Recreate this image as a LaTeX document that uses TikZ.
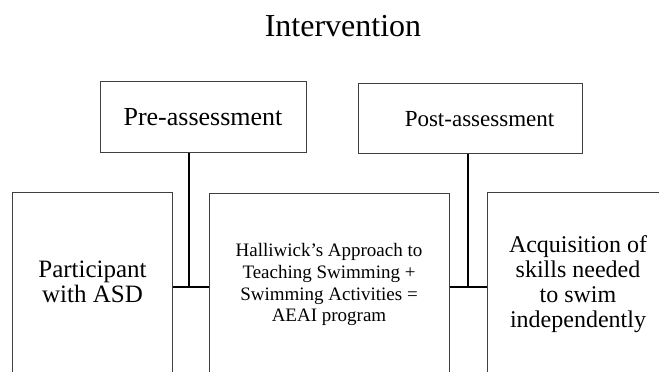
\documentclass[tikz,border=0pt]{standalone}
\usepackage{fontspec}
\setmainfont{Liberation Serif}
\begin{document}
\begin{tikzpicture}[x=1pt,y=-1pt,
  box/.style={draw=black!75,line width=1.3pt,inner sep=0pt,anchor=north west},
  conn/.style={draw=black,line width=2pt},
  txt/.style={inner sep=0pt,align=center,anchor=base}]
\useasboundingbox (0,0) rectangle (659,372);
\clip (0,0) rectangle (659,372);
% title
\node[txt,font=\fontsize{32}{36}\selectfont] (title) at (343,36) {Intervention};
% boxes
\node[box,minimum width=206,minimum height=71] (pre) at (100,81) {};
\node[box,minimum width=224,minimum height=70] (post) at (358,83) {};
\node[box,minimum width=160,minimum height=200] (leftbox) at (12,192) {};
\node[box,minimum width=240,minimum height=200] (midbox) at (209,193) {};
\node[box,minimum width=185,minimum height=200] (rightbox) at (487,192) {};
% texts (base anchor = baseline of the last line)
\node[txt,font=\fontsize{26}{28}\selectfont] (pretext) at (203,125) {Pre-assessment};
\node[txt,font=\fontsize{23}{26}\selectfont] (posttext) at (479.5,126.7) {Post-assessment};
\node[txt,font=\fontsize{25}{25}\selectfont] (lefttext) at (92.5,302.7) {Participant\\with ASD};
\node[txt,font=\fontsize{19}{21.8}\selectfont] (midtext) at (329,321.9) {Halliwick’s Approach to\\Teaching Swimming +\\Swimming Activities =\\AEAI program};
\node[txt,font=\fontsize{24}{24.8}\selectfont] (righttext) at (578,327.1) {Acquisition of\\skills needed\\to swim\\independently};
% connectors
\coordinate (j1) at (189.3,286.7);
\coordinate (j2) at (468,286.7);
\draw[conn] (pre.south -| j1) -- (j1);
\draw[conn] (leftbox.east |- j1) -- (midbox.west |- j1);
\draw[conn] (post.south -| j2) -- (j2);
\draw[conn] (midbox.east |- j2) -- (rightbox.west |- j2);
\end{tikzpicture}
\end{document}
